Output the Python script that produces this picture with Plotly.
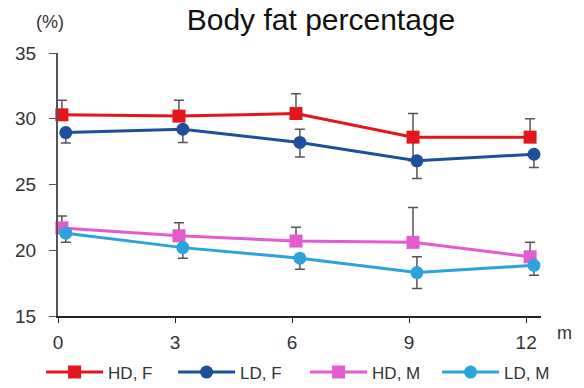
import plotly.graph_objects as go

months = [0, 3, 6, 9, 12]
series_names = ["HD, F", "LD, F", "HD, M", "LD, M"]
hd_f = [30.3, 30.2, 30.4, 28.6, 28.6]
ld_f = [28.95, 29.2, 28.2, 26.8, 27.3]
hd_m = [21.7, 21.1, 20.7, 20.6, 19.5]
ld_m = [21.3, 20.2, 19.4, 18.3, 18.85]
hd_f_err_up = [1.1, 1.2, 1.5, 1.8, 1.4]
hd_f_err_dn = [0, 0, 0, 1.8, 0]
ld_f_err_up = [0, 0, 1.0, 0, 0]
ld_f_err_dn = [0.8, 1.0, 1.1, 1.35, 1.0]
hd_m_err_up = [0.9, 1.0, 1.05, 2.65, 1.1]
hd_m_err_dn = [0, 0, 0, 0, 0]
ld_m_err_up = [0, 0, 0, 1.2, 0]
ld_m_err_dn = [0.7, 0.8, 0.85, 1.2, 0.75]
y_ticks = [15, 20, 25, 30, 35]

colors = ["#e3161d", "#1d4f9a", "#e45bd0", "#2ba3dc"]
symbols = ["square", "circle", "square", "circle"]
offsets = [0.1, 0.2, 0.1, 0.2]
values = [hd_f, ld_f, hd_m, ld_m]
ups = [hd_f_err_up, ld_f_err_up, hd_m_err_up, ld_m_err_up]
dns = [hd_f_err_dn, ld_f_err_dn, hd_m_err_dn, ld_m_err_dn]

fig = go.Figure()
for name, vals, up, dn, c, s, off in zip(series_names, values, ups, dns, colors, symbols, offsets):
    fig.add_trace(go.Scatter(
        x=[m + off for m in months], y=vals, name=name, mode="lines+markers",
        line=dict(color=c, width=3),
        marker=dict(symbol=s, size=13, color=c),
        error_y=dict(type="data", symmetric=False, array=up, arrayminus=dn,
                     color="#555555", thickness=1.5, width=5),
        cliponaxis=False,
    ))

font = "Liberation Sans, Arial, sans-serif"
fig.update_layout(
    width=584, height=388,
    margin=dict(l=58, r=43, t=53, b=72, autoexpand=False),
    paper_bgcolor="white", plot_bgcolor="white",
    font=dict(family=font, color="#333333", size=16),
    title=dict(text="Body fat percentage", x=318 / 584, xanchor="center", xref="paper",
               y=1 - 19 / 388, yanchor="middle",
               font=dict(size=30, color="#111111", family=font)),
    showlegend=True,
    legend=dict(orientation="h", x=-0.035, xanchor="left", y=-0.215, yanchor="middle",
                bgcolor="rgba(0,0,0,0)",
                font=dict(size=17, color="#333333"), entrywidth=60, itemwidth=57,
                tracegroupgap=0),
    xaxis=dict(range=[0, 12.38], tickvals=months, ticks="outside", ticklen=5,
               tickcolor="#222222", showline=True, linecolor="#222222", linewidth=2,
               showgrid=False, zeroline=False, tickfont=dict(size=19),
               ticklabelstandoff=3),
    yaxis=dict(range=[15, 35], tickvals=y_ticks, ticks="outside", ticklen=7,
               tickcolor="#555555", showline=True, linecolor="#555555", linewidth=2,
               showgrid=False, zeroline=False, tickfont=dict(size=19),
               ticklabelstandoff=9),
    annotations=[
        dict(text="(%)", xref="paper", yref="paper", x=-0.017, y=1.118, xanchor="center",
             yanchor="middle", showarrow=False, font=dict(size=18, color="#333333")),
        dict(text="m", xref="paper", yref="paper", x=1.03, y=-0.065, xanchor="left",
             yanchor="middle", showarrow=False, font=dict(size=18, color="#333333")),
    ],
)
fig.write_html("out.html")
